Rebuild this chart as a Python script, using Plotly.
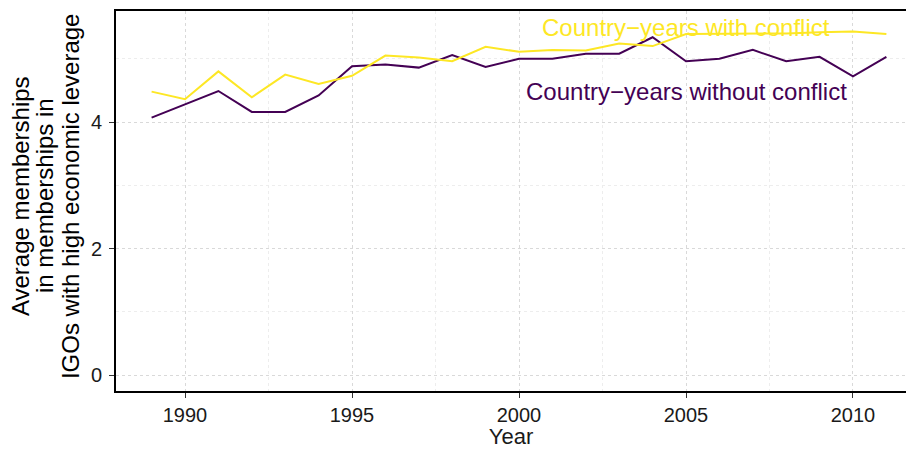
import plotly.graph_objects as go

# Data
years = list(range(1989, 2012))
with_conflict = [4.48, 4.36, 4.80, 4.39, 4.75, 4.60, 4.73, 5.05, 5.02, 4.96, 5.19, 5.11,
                 5.14, 5.13, 5.24, 5.20, 5.39, 5.39, 5.39, 5.40, 5.42, 5.43, 5.39]
without_conflict = [4.07, 4.28, 4.49, 4.16, 4.16, 4.42, 4.88, 4.91, 4.86, 5.06, 4.87, 5.00,
                    5.00, 5.08, 5.08, 5.34, 4.96, 5.00, 5.14, 4.96, 5.03, 4.72, 5.03]
x_ticks = [1990, 1995, 2000, 2005, 2010]
y_ticks = [0, 2, 4]
y_title = ['Average memberships', 'in memberships in', 'IGOs with high economic leverage']

purple = '#440154'
yellow = '#FDE725'
font = 'Liberation Sans, Arial, sans-serif'

fig = go.Figure()
fig.add_trace(go.Scatter(x=years, y=without_conflict, mode='lines',
                         line=dict(color=purple, width=2), showlegend=False))
fig.add_trace(go.Scatter(x=years, y=with_conflict, mode='lines',
                         line=dict(color=yellow, width=2), showlegend=False))

# direct labels
fig.add_annotation(x=2005, y=5.50, text='Country\u2212years with conflict', showarrow=False,
                   font=dict(color=yellow, size=24, family=font))
fig.add_annotation(x=2005, y=4.49, text='Country\u2212years without conflict', showarrow=False,
                   font=dict(color=purple, size=24, family=font))

# y axis title, one line per annotation so the spacing matches
for shift, line in zip([-96, -72, -46], y_title):
    fig.add_annotation(xref='paper', yref='paper', x=0, y=0.513, xshift=shift, text=line,
                       textangle=-90, showarrow=False, xanchor='center', yanchor='middle',
                       font=dict(size=24, color='black', family=font))

grid = dict(showgrid=True, gridcolor='#d9d9d9', griddash='dot', gridwidth=1)

# the plot panel runs off the right edge in the original
fig.update_xaxes(range=[1987.934, 2011.587], tickvals=x_ticks, **grid,
                 minor=dict(dtick=2.5, tick0=1987.5, showgrid=True, gridcolor='#ededed', griddash='dot'),
                 showline=True, linecolor='black', linewidth=2, mirror=True,
                 ticks='outside', ticklen=5, tickcolor='#333333', zeroline=False, automargin=False,
                 tickfont=dict(size=20, color='#1a1a1a', family=font),
                 title=dict(text='Year', font=dict(size=22, color='#1a1a1a', family=font), standoff=7))
fig.update_yaxes(range=[-0.253, 5.755], tickvals=y_ticks, **grid,
                 minor=dict(dtick=1, tick0=1, showgrid=True, gridcolor='#ededed', griddash='dot'),
                 showline=True, linecolor='black', linewidth=2,
                 ticks='outside', ticklen=5, tickcolor='#333333', zeroline=False, automargin=False,
                 ticklabelstandoff=3,
                 tickfont=dict(size=20, color='#1a1a1a', family=font))

# page body has an 8px margin, so size the figure to fit inside the window
fig.update_layout(width=898, height=441, plot_bgcolor='white', paper_bgcolor='white',
                  margin=dict(l=108, r=0, t=3, b=58, autoexpand=False), font=dict(family=font))

fig.write_html('out.html')
